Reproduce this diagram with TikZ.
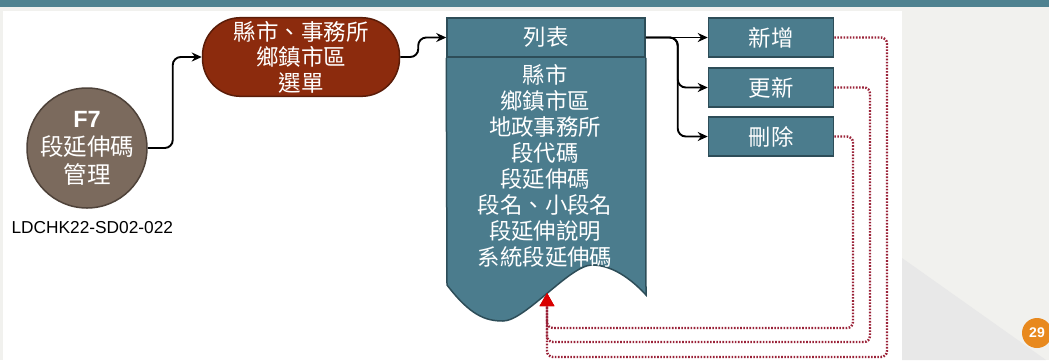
\documentclass[tikz,border=0pt]{standalone}
\usepackage{fontspec}
\setmainfont{Liberation Sans}
\newfontfamily\cjk{Noto Sans CJK TC}
\usetikzlibrary{arrows.meta,positioning,calc}
\definecolor{tealbox}{HTML}{4B7C8D}
\definecolor{tealline}{HTML}{2D4D58}
\definecolor{menured}{HTML}{8C2B0D}
\definecolor{menuline}{HTML}{5A1C08}
\definecolor{mgmt}{HTML}{7B6A5D}
\definecolor{mgmtline}{HTML}{4E4239}
\definecolor{retline}{HTML}{9A2238}
\definecolor{slidegray}{HTML}{F1F1EE}
\definecolor{tealstrip}{HTML}{4F8290}
\definecolor{badge}{HTML}{E8891E}

\begin{document}
\begin{tikzpicture}[x=1pt,y=-1pt,>=Stealth,
  txt/.style={text=white,font=\cjk\fontsize{22.4}{26}\selectfont,align=center},
  btn/.style={txt,draw=tealline,fill=tealbox,line width=1.5pt,minimum width=125pt,minimum height=39pt,inner sep=0pt},
  arr/.style={-{Stealth[length=10pt,width=9pt]},line width=1.9pt,rounded corners=8pt},
  ret/.style={line width=2.4pt,color=retline,dash pattern=on 1.6pt off 1.5pt,rounded corners=6pt,
    -{Triangle[width=14pt,length=13pt,color=red!85!black]}}]
  % Slide background
  \fill[slidegray] (0,0) rectangle (1049,360);
  \fill[white] (3,11) rectangle (902,360);
  \fill[black!9] (902,258) -- (1046,360) -- (902,360) -- cycle;
  \fill[tealstrip] (0,0) rectangle (1049,7);
  \useasboundingbox (0,0) rectangle (1049,360);

  % Program and menu
  \node[circle,draw=mgmtline,fill=mgmt,line width=1.5pt,minimum size=120pt,inner sep=0pt,
    txt,font=\cjk\fontsize{23.5}{28}\selectfont] (f7) at (87,148) {{\rmfamily\bfseries F7}\\段延伸碼\\管理};
  \node[anchor=west,font=\fontsize{17.3}{18}\selectfont] (code) at (8,228) {LDCHK22-SD02-022};
  \node[txt,draw=menuline,fill=menured,line width=1.5pt,rounded corners=38pt,
    minimum width=197pt,minimum height=78pt,font=\cjk\fontsize{22.5}{25.5}\selectfont] (menu) at (301,57)
    {縣市、事務所\\鄉鎮市區\\選單};

  % List
  \node[btn,minimum width=198pt] (hdr) at (546,37.5) {列表};
  \fill[tealbox] (hdr.south west) -- (447,285)
    .. controls (470,315) and (485,321) .. (503,321)
    .. controls (525,321) and (570,265) .. (592,265)
    .. controls (615,265) and (635,283) .. (646,295) -- (hdr.south east) -- cycle;
  \draw[tealline,line width=1.5pt] (hdr.south west) -- (447,285)
    .. controls (470,315) and (485,321) .. (503,321)
    .. controls (525,321) and (570,265) .. (592,265)
    .. controls (615,265) and (635,283) .. (646,295) -- (hdr.south east);
  \node[btn,minimum width=198pt] at (hdr) {列表};
  \node[txt] (fields) at (545,166) {縣市\\鄉鎮市區\\地政事務所\\段代碼\\段延伸碼\\段名、小段名\\段延伸說明\\系統段延伸碼};
  \coordinate (tip) at (547,293);

  % Actions
  \node[btn] (add) at (771,37.5) {新增};
  \node[btn] (upd) at (771,87.5) {更新};
  \node[btn] (del) at (771,136.5) {刪除};

  \draw[arr] (f7.east) -- ++(25,0) |- (menu.west);
  \draw[arr] (menu.east) -- ++(18,0) |- (hdr.west);
  \draw[arr] (hdr.east) -- (add.west);
  \draw[arr] (hdr.east) -- ++(32,0) |- (upd.west);
  \draw[arr] (hdr.east) -- ++(32,0) |- (del.west);

  % Back to list
  \draw[ret] (add.east) -| (887,357) -| (tip);
  \draw[ret] (upd.east) -| (870,342) -| (tip);
  \draw[ret] (del.east) -| (853,328) -| (tip);

  \node[circle,fill=badge,text=white,inner sep=0pt,minimum size=30pt,
    font=\bfseries\fontsize{14}{14}\selectfont] (page) at (1037,333) {29};
\end{tikzpicture}
\end{document}
